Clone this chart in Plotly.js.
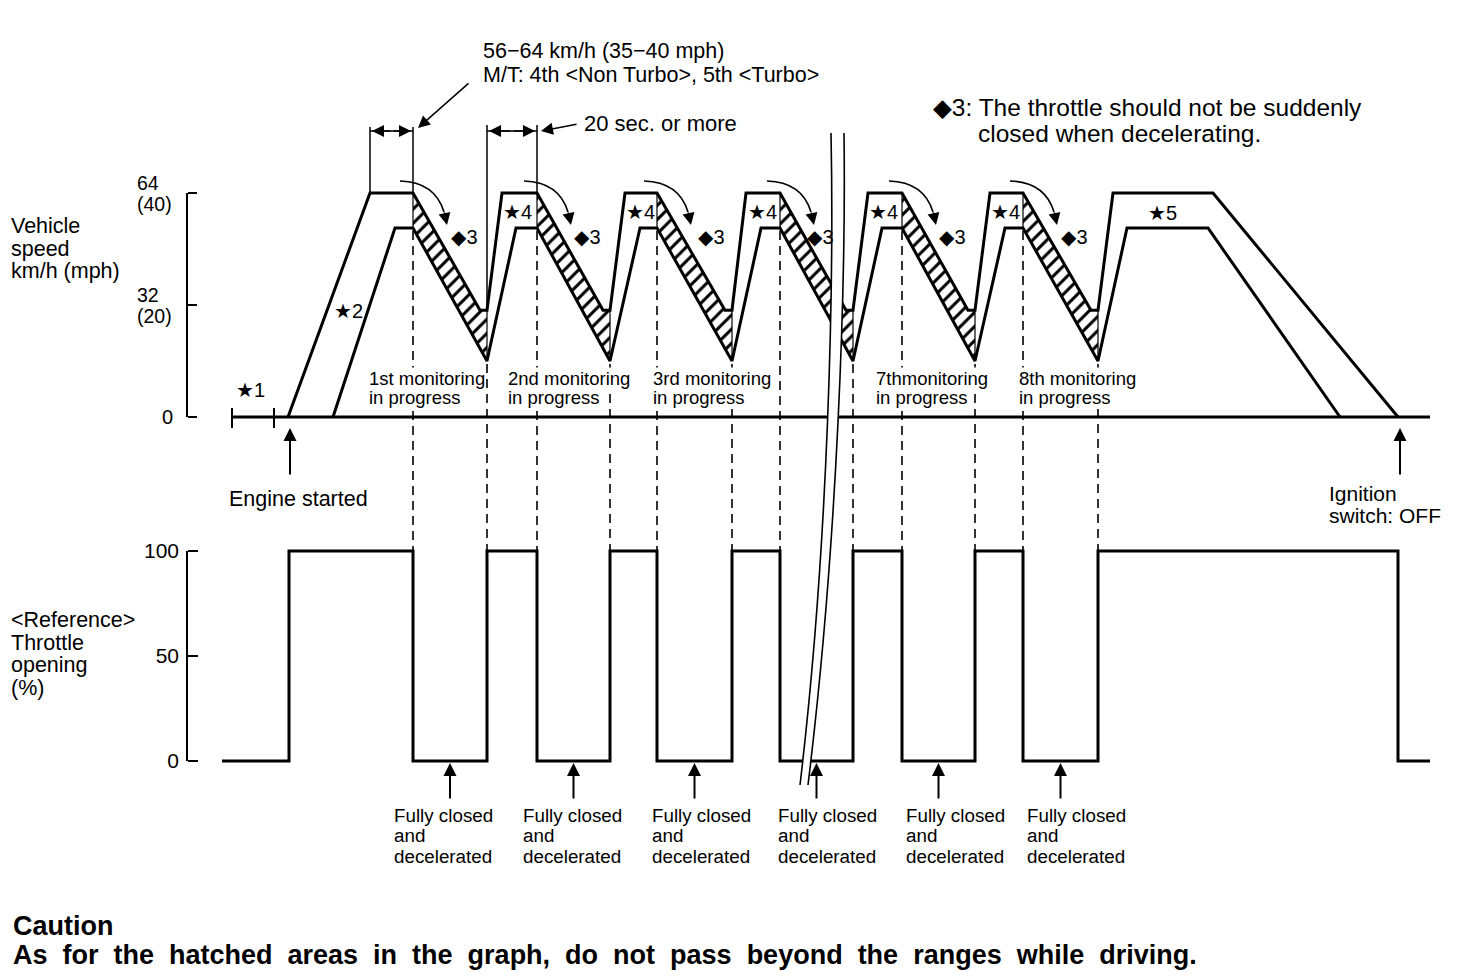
<!DOCTYPE html>
<html>
<head>
<meta charset="utf-8">
<script src="https://cdn.plot.ly/plotly-3.0.1.min.js"></script>
<style>
html,body{margin:0;padding:0;background:#ffffff;}
#chart{width:1472px;height:976px;}
</style>
</head>
<body>
<div id="chart"></div>
<script>
// ================= DATA =================
// time along the test drive (drawing units), vehicle speed in km/h
const upperT = [288, 370, 413, 480, 487, 502, 537, 603, 610, 625, 657, 725, 732, 746, 780, 846, 853, 868, 902, 968, 975, 990, 1023, 1091, 1098, 1113, 1213, 1398];
const upperV = [0, 64, 64, 30.5, 30.5, 64, 64, 30.5, 30.5, 64, 64, 30.5, 30.5, 64, 64, 30.5, 30.5, 64, 64, 30.5, 30.5, 64, 64, 30.5, 30.5, 64, 64, 0];
const lowerT = [333, 395, 413, 487, 516, 537, 610, 640, 657, 732, 761, 780, 853, 882, 902, 975, 1005, 1023, 1098, 1127, 1208, 1340];
const lowerV = [0, 54, 54, 16, 54, 54, 16, 54, 54, 16, 54, 54, 16, 54, 54, 16, 54, 54, 16, 54, 54, 0];
// deceleration (monitoring) windows
const decelStart = [413, 537, 657, 780, 902, 1023];
const decelEnd = [487, 610, 732, 853, 975, 1098];
// throttle opening (%) as a step signal
const throttleT = [222, 289, 413, 487, 537, 610, 657, 732, 780, 853, 902, 975, 1023, 1098, 1398, 1430];
const throttleV = [0, 100, 0, 100, 0, 100, 0, 100, 0, 100, 0, 100, 0, 100, 0, 0];
// tick labels
const speedTicks = [0, 32, 64];
const speedTickText = [['0'], ['32', '(20)'], ['64', '(40)']];
const throttleTicks = [0, 50, 100];
const throttleTickText = ['0', '50', '100'];
const monitorLabels = ['1st monitoring', '2nd monitoring', '3rd monitoring', '7thmonitoring', '8th monitoring'];
const engineStartT = 289;
const ignitionOffT = 1398;

// ================= LAYOUT HELPERS =================
const W = 1472, H = 976;
const SP0 = 417, SPK = 3.5;   // speed 0 at px 417, 3.5 px per km/h
const TH0 = 761, THK = 2.1;   // throttle 0 at px 761, 2.1 px per %
const AXX = 187;              // x of the vertical axis brackets
const spPx = v => SP0 - SPK * v;
const thPx = t => TH0 - THK * t;
const FONT = 'Liberation Sans, Arial, Helvetica, DejaVu Sans, sans-serif';

const ann = [];
const shapes = [];
function txt(s, x, y, size, opts) {
  ann.push(Object.assign({text: s, x: x, y: y, xref: 'x', yref: 'y3', xanchor: 'left', yanchor: 'middle',
    showarrow: false, borderpad: 0, font: {family: FONT, size: size, color: '#000'}}, opts || {}));
}
function lines(arr, x, y, size, gap, opts) {
  arr.forEach((s, i) => txt(s, x, y + i * gap, size, opts));
}
function arrow(x, y, ax, ay, w, sz) {
  ann.push({text: '', x: x, y: y, ax: ax, ay: ay, xref: 'x', yref: 'y3', axref: 'x', ayref: 'y3',
    showarrow: true, arrowhead: 2, arrowsize: sz || 1.4, arrowwidth: w || 2, arrowcolor: '#000', standoff: 0});
}
function seg(x0, y0, x1, y1, w, dash) {
  shapes.push({type: 'line', xref: 'x', yref: 'y3', x0: x0, y0: y0, x1: x1, y1: y1,
    line: {color: '#000', width: w || 2, dash: dash || 'solid'}});
}

// ================= TRACES =================
const traces = [];
// hatched permissible bands during deceleration
decelStart.forEach(function (b) {
  const j = upperT.indexOf(b), k = lowerT.indexOf(b);
  const xs = [upperT[j], upperT[j + 1], upperT[j + 2], lowerT[k + 1], lowerT[k], upperT[j]];
  const ys = [upperV[j], upperV[j + 1], upperV[j + 2], lowerV[k + 1], lowerV[k], upperV[j]];
  traces.push({x: xs, y: ys, yaxis: 'y', type: 'scatter', mode: 'lines', fill: 'toself',
    fillcolor: '#ffffff', line: {color: '#000', width: 1.2},
    fillpattern: {shape: '/', size: 10, solidity: 0.3, fgcolor: '#000', bgcolor: '#fff'},
    hoverinfo: 'skip', showlegend: false});
});
traces.push({x: upperT, y: upperV, yaxis: 'y', type: 'scatter', mode: 'lines',
  line: {color: '#000', width: 3}, name: 'upper limit', showlegend: false});
traces.push({x: lowerT, y: lowerV, yaxis: 'y', type: 'scatter', mode: 'lines',
  line: {color: '#000', width: 3}, name: 'lower limit', showlegend: false});
traces.push({x: throttleT, y: throttleV, yaxis: 'y2', type: 'scatter', mode: 'lines',
  line: {color: '#000', width: 3, shape: 'hv'}, name: 'throttle', showlegend: false});

// ================= DECORATIONS =================
// axis brackets
seg(AXX, spPx(0), AXX, spPx(64), 2);
seg(AXX, thPx(0), AXX, thPx(100), 2);
// speed baseline with star-1 interval
seg(232, spPx(0), 1430, spPx(0), 3);
seg(232, spPx(0) - 9, 232, spPx(0) + 11, 2);
seg(274, spPx(0) - 9, 274, spPx(0) + 11, 2);
// dashed guide lines from speed chart down to throttle chart
decelStart.forEach(b => seg(b, spPx(54) + 3, b, thPx(0), 1.6, '9px,6px'));
decelEnd.forEach(v => seg(v, spPx(16) + 3, v, thPx(0), 1.6, '9px,6px'));
// dimension lines at top
seg(370, 127, 370, spPx(64), 1.5);
seg(413, 127, 413, spPx(64), 1.5);
seg(370, 131, 413, 131, 1.5);
arrow(372, 131, 392, 131, 1.5, 1.6);
arrow(411, 131, 392, 131, 1.5, 1.6);
arrow(418, 128, 470, 82, 1.5, 1.6);
seg(487, 125, 487, spPx(30.5), 1.5);
seg(537, 125, 537, spPx(64), 1.5);
seg(487, 131, 537, 131, 1.5);
arrow(489, 131, 512, 131, 1.5, 1.6);
arrow(535, 131, 512, 131, 1.5, 1.6);
arrow(541, 131, 578, 124, 1.5, 1.6);
// curved arrows (throttle eased off while decelerating)
decelStart.forEach(function (b) {
  shapes.push({type: 'path', xref: 'x', yref: 'y3', path: `M ${b - 13} 181 Q ${b + 22} 182 ${b + 31} 212`,
    line: {color: '#000', width: 1.6}});
  arrow(b + 34, 225, b + 31, 211, 1.6, 1.5);
});
// "Fully closed" arrows
decelStart.forEach(function (b, i) {
  const m = (b + decelEnd[i]) / 2;
  arrow(m, thPx(0) + 2, m, 800, 2, 1.3);
});
// Engine started / ignition OFF arrows
arrow(engineStartT + 1, spPx(0) + 11, engineStartT + 1, 476, 2, 1.3);
arrow(ignitionOffT + 2, spPx(0) + 11, ignitionOffT + 2, 476, 2, 1.3);
// break marks (white band between two wavy lines)
const breakL = 'M 831 133 C 834 280 829 540 800 785';
const breakR = 'M 844 133 C 846 280 838 540 808 785';
shapes.push({type: 'path', xref: 'x', yref: 'y3',
  path: breakL + ' L 808 785 C 838 540 846 280 844 133 Z',
  fillcolor: '#ffffff', line: {width: 0}});
shapes.push({type: 'path', xref: 'x', yref: 'y3', path: breakL, line: {color: '#000', width: 1.6}});
shapes.push({type: 'path', xref: 'x', yref: 'y3', path: breakR, line: {color: '#000', width: 1.6}});

// ================= TEXT =================
const WHITE = {bgcolor: '#ffffff'};
txt('56\u221264 km/h (35\u221240 mph)', 482, 50.5, 21.5);
txt('M/T: 4th &lt;Non Turbo&gt;, 5th &lt;Turbo&gt;', 482, 74.5, 21.5);
txt('20 sec. or more', 583, 123, 22);
txt('\u25C63: The throttle should not be suddenly', 932, 107, 24.5);
txt('closed when decelerating.', 977, 133, 24.5);
lines(['Vehicle', 'speed', 'km/h (mph)'], 10, 226, 21.5, 22.5);
lines(['&lt;Reference&gt;', 'Throttle', 'opening', '(%)'], 10, 620, 21.5, 22.5);
speedTicks.forEach(function (v, i) {
  const t = speedTickText[i];
  if (t.length === 1) txt(t[0], 161, spPx(v), 20);
  else { txt(t[0], 136, spPx(v) - 10, 19.5); txt(t[1], 136, spPx(v) + 11, 19.5); }
});
txt('\u26051', 235, 390, 20);
txt('\u26052', 333, 311, 20);
decelEnd.slice(0, 5).forEach(v => txt('\u26054', v + 15, 212, 20));
txt('\u26055', 1147, 213, 20);
[450, 573, 697, 806, 938, 1060].forEach(x => txt('\u25C63', x, 237, 20));
[368, 507, 652, 875, 1018].forEach(function (x, i) {
  txt(monitorLabels[i], x, 378, 18.5, WHITE);
  txt('in progress', x, 397.5, 18.5, WHITE);
});
txt('Engine started', 228, 499, 21.5);
lines(['Ignition', 'switch: OFF'], 1328, 493, 21, 22.5);
[393, 522, 651, 777, 905, 1026].forEach(x => lines(['Fully closed', 'and', 'decelerated'], x, 815, 18.8, 20.5));
txt('<b>Caution</b>', 12, 926, 27);
const cautionLine = 'As for the hatched areas in the graph, do not pass beyond the ranges while driving.';
txt('<b>' + cautionLine.split(' ').join(' \u00A0') + '</b>', 12, 955, 27);

// ================= LAYOUT =================
const layout = {
  width: W, height: H,
  margin: {l: 0, r: 0, t: 0, b: 0, pad: 0},
  paper_bgcolor: '#ffffff', plot_bgcolor: '#ffffff',
  showlegend: false,
  xaxis: {range: [0, W], domain: [0, 1], visible: false, fixedrange: true},
  yaxis: {range: [(SP0 - H) / SPK, SP0 / SPK], domain: [0, 1], anchor: 'free', position: AXX / W,
    showgrid: false, zeroline: false, showline: false, automargin: false, fixedrange: true,
    ticks: 'inside', ticklen: 9, tickwidth: 2, tickcolor: '#000',
    tickvals: speedTicks, showticklabels: false},
  yaxis2: {range: [(TH0 - H) / THK, TH0 / THK], domain: [0, 1], anchor: 'free', position: AXX / W,
    overlaying: 'y', showgrid: false, zeroline: false, showline: false, automargin: false, fixedrange: true,
    ticks: 'inside', ticklen: 10, tickwidth: 2, tickcolor: '#000',
    tickvals: throttleTicks, ticktext: throttleTickText, ticklabelstandoff: 8,
    tickfont: {family: FONT, size: 21, color: '#000'}},
  yaxis3: {range: [H, 0], domain: [0, 1], overlaying: 'y', visible: false, fixedrange: true},
  shapes: shapes,
  annotations: ann
};
Plotly.newPlot('chart', traces, layout, {displayModeBar: false, staticPlot: true});
</script>
</body>
</html>
